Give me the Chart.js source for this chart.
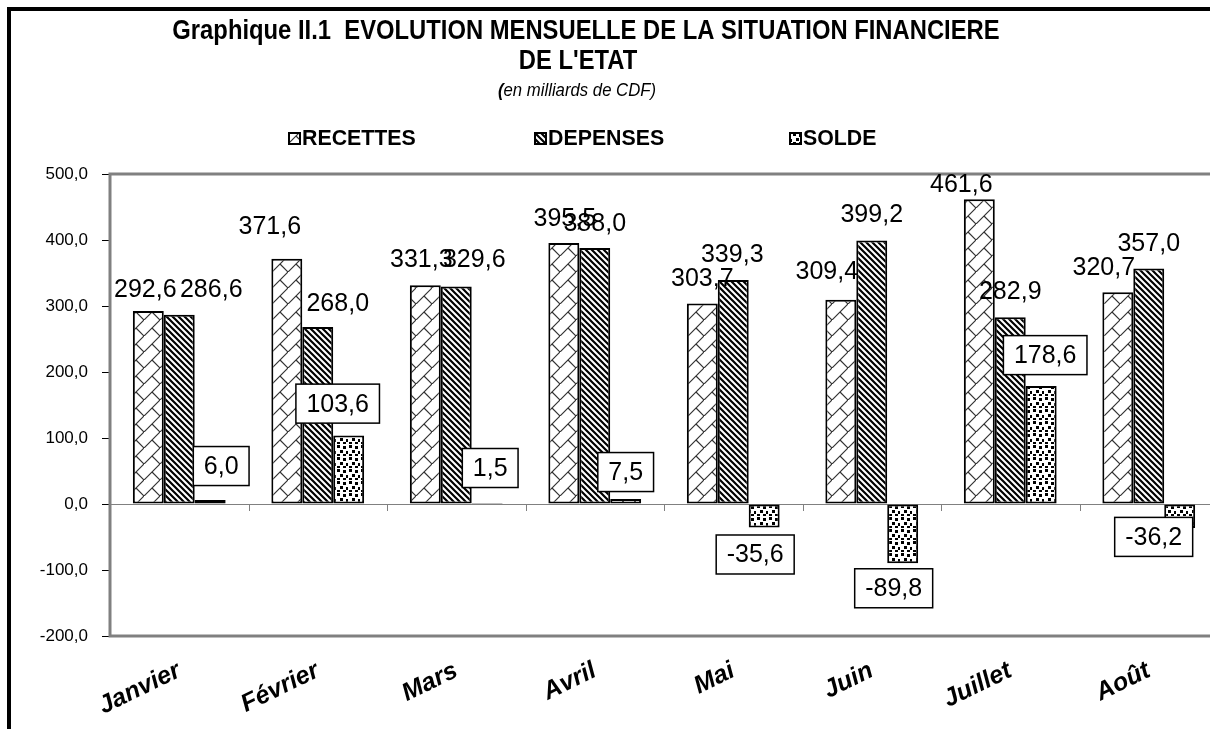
<!DOCTYPE html>
<html>
<head>
<meta charset="utf-8">
<title>Graphique II.1</title>
<script src="https://cdn.jsdelivr.net/npm/chart.js@4.4.1/dist/chart.umd.min.js"></script>
<style>
    html, body { margin: 0; padding: 0; background: #fff; width: 1210px; height: 729px; overflow: hidden; }
    #frame { position: absolute; left: 7px; top: 7px; width: 1240px; height: 760px; border-top: 4px solid #000; border-left: 4px solid #000; }
    #wrap { position: absolute; left: 0; top: 0; }
</style>
</head>
<body>
<div id="frame"></div>
<div id="wrap"><canvas id="chart" width="1220" height="729"></canvas></div>
<script>
// Data (milliards de CDF)
const months = ['Janvier', 'Février', 'Mars', 'Avril', 'Mai', 'Juin', 'Juillet', 'Août'];
const recettes = [292.6, 371.6, 331.3, 395.5, 303.7, 309.4, 461.6, 320.7];
const depenses = [286.6, 268.0, 329.6, 388.0, 339.3, 399.2, 282.9, 357.0];
const solde = [6.0, 103.6, 1.5, 7.5, -35.6, -89.8, 178.6, -36.2];
const seriesNames = ['RECETTES', 'DEPENSES', 'SOLDE'];
const titleLines = ['Graphique II.1  EVOLUTION MENSUELLE DE LA SITUATION FINANCIERE', "DE L'ETAT"];
const subtitleText = 'en milliards de CDF)';

// Label offsets (px) from the end of each bar, moved by hand in the original
const shiftRecettes = [[-3, -22], [-17, -33], [-4, -26], [1, -25], [0, -25], [-14, -29], [-18, -15], [-14, -25]];
const shiftDepenses = [[32, -26], [20, -24], [18, -27], [0, -25], [-1, -26], [0, -26], [0, -26], [0, -25]];
const shiftSolde = [[11, -34], [-11, -32], [3, -35], [0, -27], [-9, 27], [-9, 25], [4, -31], [-26, 9]];
const labelShifts = [shiftRecettes, shiftDepenses, shiftSolde];

const SANS = '"Liberation Sans", Arial, sans-serif';

const fmt = v => v.toFixed(1).replace('.', ',');

// Hatch patterns like the Excel fills
function makePattern(kind) {
    const c = document.createElement('canvas');
    const g = c.getContext('2d');
    if (kind === 'brick') {
        c.width = c.height = 16;
        g.fillStyle = '#fff';
        g.fillRect(0, 0, 16, 16);
        g.strokeStyle = '#333';
        g.lineWidth = 1.2;
        g.beginPath();
        g.moveTo(-1, 17); g.lineTo(17, -1);
        g.moveTo(8, 8); g.lineTo(17, 17);
        g.stroke();
    } else if (kind === 'stripes') {
        c.width = c.height = 6;
        g.fillStyle = '#fff';
        g.fillRect(0, 0, 6, 6);
        g.strokeStyle = '#000';
        g.lineWidth = 2.2;
        g.beginPath();
        [-6, 0, 6].forEach(k => { g.moveTo(k - 1, -1); g.lineTo(k + 7, 7); });
        g.stroke();
    } else {
        c.width = c.height = 12;
        g.fillStyle = '#fff';
        g.fillRect(0, 0, 12, 12);
        g.fillStyle = '#000';
        [[1, 1], [7, 2], [4, 6], [10, 7], [1, 10], [7, 10]].forEach(p => g.fillRect(p[0], p[1], 3, 3));
    }
    return g.createPattern(c, 'repeat');
}

const fills = [makePattern('brick'), makePattern('stripes'), makePattern('dots')];

// text squeezed horizontally, the original uses a narrow face
function squeezedText(ctx, text, x, y, sx, align) {
    ctx.save();
    ctx.translate(x, y);
    ctx.scale(sx, 1);
    ctx.textAlign = align;
    ctx.textBaseline = 'middle';
    ctx.fillText(text, 0, 0);
    ctx.restore();
}

// Title, subtitle and legend
const legendX = [289, 535, 790];
const headerBlock = {
    id: 'headerBlock',
    afterDraw(chart) {
        const ctx = chart.ctx;
        ctx.save();
        ctx.fillStyle = '#000';
        ctx.font = 'bold 28px ' + SANS;
        squeezedText(ctx, titleLines[0], 586, 31, 0.85, 'center');
        squeezedText(ctx, titleLines[1], 578, 61, 0.85, 'center');

        // subtitle: bold opening bracket then italic text
        const sx = 0.93;
        ctx.font = 'bold italic 18px ' + SANS;
        const w1 = ctx.measureText('(').width;
        ctx.font = 'italic 18px ' + SANS;
        const w2 = ctx.measureText(subtitleText).width;
        const left = 577 - (w1 + w2) * sx / 2;
        ctx.font = 'bold italic 18px ' + SANS;
        squeezedText(ctx, '(', left, 91, sx, 'left');
        ctx.font = 'italic 18px ' + SANS;
        squeezedText(ctx, subtitleText, left + w1 * sx, 91, sx, 'left');

        // legend
        ctx.font = 'bold 22px ' + SANS;
        seriesNames.forEach((name, i) => {
            const x = legendX[i];
            ctx.fillStyle = fills[i];
            ctx.fillRect(x, 133, 11, 11);
            ctx.strokeStyle = '#000';
            ctx.lineWidth = 2;
            ctx.strokeRect(x, 133, 11, 11);
            ctx.fillStyle = '#000';
            squeezedText(ctx, name, x + 13, 139, 0.97, 'left');
        });
        ctx.restore();
    }
};

// Plot frame, zero line and category ticks
const plotFrame = {
    id: 'plotFrame',
    beforeDatasetsDraw(chart) {
        const { ctx, chartArea: a, scales } = chart;
        const y0 = scales.y.getPixelForValue(0);
        ctx.save();
        ctx.strokeStyle = '#808080';
        ctx.lineWidth = 1;
        ctx.beginPath();
        ctx.moveTo(a.left, y0 + 0.5);
        ctx.lineTo(a.right, y0 + 0.5);
        for (let i = 1; i < months.length; i++) {
            const x = Math.round((scales.x.getPixelForValue(i - 1) + scales.x.getPixelForValue(i)) / 2) + 0.5;
            ctx.moveTo(x, y0);
            ctx.lineTo(x, y0 + 7);
        }
        ctx.stroke();
        ctx.lineWidth = 3;
        ctx.strokeRect(a.left, a.top, a.right - a.left, a.bottom - a.top);
        ctx.restore();
    }
};

// Value labels, SOLDE ones in boxes
const valueLabels = {
    id: 'valueLabels',
    afterDatasetsDraw(chart) {
        const ctx = chart.ctx;
        ctx.save();
        ctx.font = '25px ' + SANS;
        ctx.textAlign = 'center';
        ctx.textBaseline = 'middle';
        chart.data.datasets.forEach((ds, i) => {
            chart.getDatasetMeta(i).data.forEach((bar, j) => {
                const [dx, dy] = labelShifts[i][j];
                const x = bar.x + dx;
                const y = bar.y + dy;
                const txt = fmt(ds.data[j]);
                if (i === 2) {
                    const w = ctx.measureText(txt).width + 21;
                    const h = 39;
                    ctx.fillStyle = '#fff';
                    ctx.fillRect(x - w / 2, y - h / 2, w, h);
                    ctx.strokeStyle = '#000';
                    ctx.lineWidth = 1.5;
                    ctx.strokeRect(x - w / 2, y - h / 2, w, h);
                }
                ctx.fillStyle = '#000';
                ctx.fillText(txt, x, y + 1);
            });
        });
        ctx.restore();
    }
};

new Chart(document.getElementById('chart'), {
    type: 'bar',
    data: {
        labels: months,
        datasets: [recettes, depenses, solde].map((values, i) => ({
            label: seriesNames[i],
            data: values,
            backgroundColor: fills[i],
            borderColor: '#000',
            borderWidth: 2,
            borderSkipped: false,
            categoryPercentage: 0.67,
            barPercentage: 1.0
        }))
    },
    options: {
        responsive: false,
        animation: false,
        layout: { padding: { top: 174, right: 2, left: 0, bottom: 0 } },
        plugins: {
            legend: { display: false },
            tooltip: { enabled: false },
            title: { display: false }
        },
        scales: {
            x: {
                grid: { display: false },
                border: { display: false },
                ticks: {
                    color: '#000',
                    font: { family: SANS, size: 25, weight: 'bold', style: 'italic' },
                    minRotation: 26,
                    maxRotation: 26,
                    autoSkip: false,
                    padding: 12
                },
                afterFit(scale) { scale.height = 93; }
            },
            y: {
                min: -200,
                max: 500,
                ticks: {
                    stepSize: 100,
                    color: '#000',
                    font: { family: SANS, size: 17 },
                    padding: 14,
                    callback: v => fmt(v)
                },
                grid: { drawOnChartArea: false, drawTicks: true, tickLength: 8, color: '#000', lineWidth: 1 },
                border: { display: false },
                afterFit(scale) { scale.width = 110; }
            }
        }
    },
    plugins: [plotFrame, valueLabels, headerBlock]
});
</script>
</body>
</html>
